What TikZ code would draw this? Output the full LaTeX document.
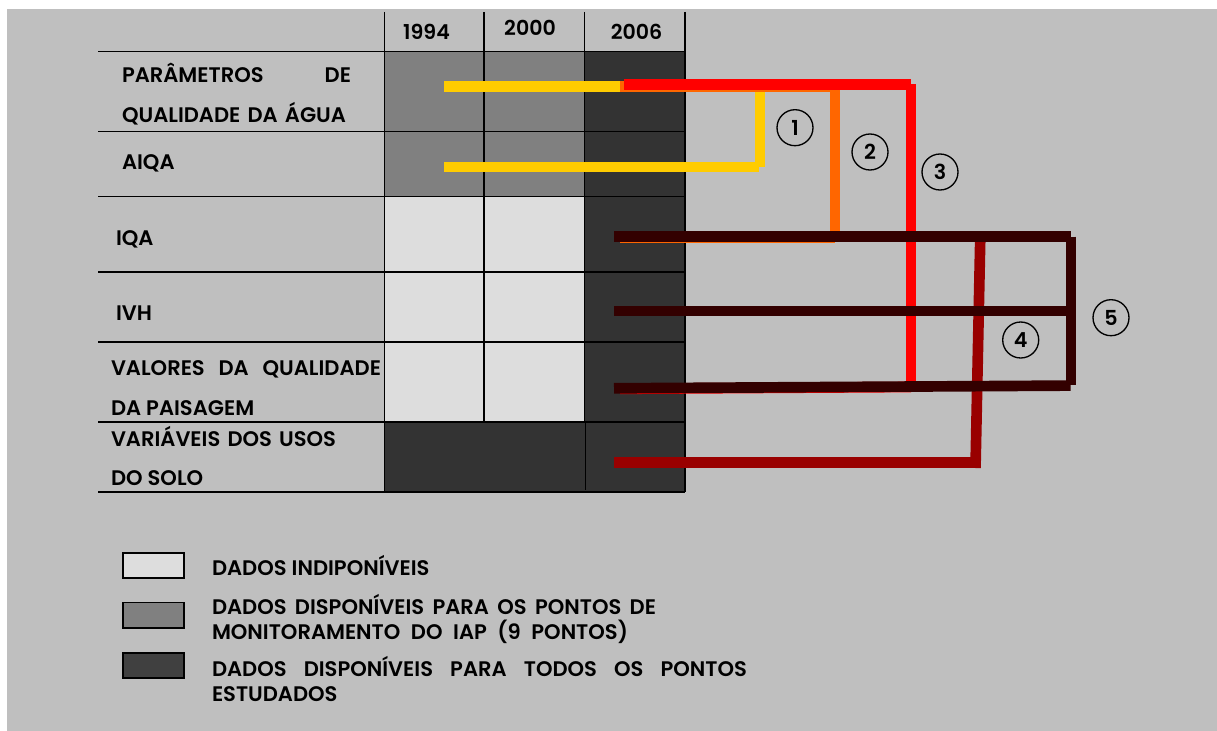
\documentclass[tikz,border=0pt]{standalone}
\usepackage{fontspec}
\setmainfont{Poppins}[BoldFont=Poppins SemiBold]
\definecolor{bgc}{HTML}{BFBFBF}
\definecolor{lightc}{HTML}{DDDDDD}
\definecolor{midc}{HTML}{808080}
\definecolor{darkc}{HTML}{333333}
\definecolor{legdark}{HTML}{404040}
\definecolor{ylw}{HTML}{FFCC00}
\definecolor{org}{HTML}{FF6600}
\definecolor{rd}{HTML}{FF0000}
\definecolor{drd}{HTML}{990000}
\definecolor{blk}{HTML}{330000}
\newcommand{\lbl}[4]{\node[tx] (#1) at (#2,#3) {#4};}
\newcommand{\jl}[5]{\node[tx] (#1) at (#2,#3) {\makebox[\dimexpr #4pt*3/4\relax][s]{#5}};}
\begin{document}
\begin{tikzpicture}[x=0.75pt,y=-0.75pt,
  tx/.style={anchor=base west,inner sep=0pt,outer sep=0pt,font=\fontsize{15.8}{18}\selectfont\bfseries,text=black},
  yr/.style={anchor=base,inner sep=0pt,font=\fontsize{15.4}{18}\selectfont\bfseries},
  grid/.style={draw=black,line width=1.1pt},
  thinl/.style={draw=black,line width=0.7pt},
  conn/.style={line width=8pt,line cap=butt},
  num/.style={circle,draw=black,line width=1pt,fill=bgc,minimum size=27pt,inner sep=0pt,font=\fontsize{15.5}{18}\selectfont\bfseries},
  leg/.style={draw=black,line width=1.2pt,minimum width=45.5pt,minimum height=19pt,inner sep=0pt}]
\useasboundingbox (0,0) rectangle (1217,731);
\fill[white] (0,0) rectangle (1217,731);
\fill[bgc] (7,9) rectangle (1217,731);
% cells
\fill[midc] (384,52) rectangle (585,197);
\fill[lightc] (384,197) rectangle (585,422);
\fill[darkc] (585,52) rectangle (685,492);
\fill[darkc] (384,422) rectangle (585,492);
% grid
\foreach \yy in {51.5,131.5,196.5,272,342,422,492}{\draw[grid] (98,\yy) -- (685,\yy);}
\draw[grid] (384.3,12) -- (384.3,492);
\draw[grid] (484,12) -- (484,422);
\draw[grid] (584.5,12) -- (584.5,422);
\draw[thinl] (585.5,422) -- (585.5,490);
\draw[grid,line width=1.5pt] (685,12) -- (685,492);
% headers
\node[yr] (y94) at (426.5,40) {1994};
\node[yr] (y00) at (530,36) {2000};
\node[yr] (y06) at (636.5,40) {2006};
% row labels
\jl{a1}{122}{83}{229}{PARÂMETROS DE}
\jl{a2}{122}{122.7}{224}{QUALIDADE DA ÁGUA}
\lbl{b}{122}{170}{AIQA}
\lbl{c}{116}{245}{IQA}
\lbl{d}{116}{320}{IVH}
\jl{e1}{111}{375}{270}{VALORES DA QUALIDADE}
\lbl{e2}{111}{415}{DA PAISAGEM}
\jl{f1}{111}{446.7}{225}{VARIÁVEIS DOS USOS}
\lbl{f2}{111}{485.7}{DO SOLO}
% connector points
\coordinate (yA) at (444,86.5); \coordinate (yB) at (765,86.5);
\coordinate (yC) at (760,86.5); \coordinate (yD) at (760,166.7);
\coordinate (yE) at (444,167); \coordinate (yF) at (759.3,167);
\coordinate (oA) at (620,86.5); \coordinate (oB) at (835,86.5);
\coordinate (oC) at (835,86.5); \coordinate (oD) at (835,237);
\coordinate (oE) at (620,238); \coordinate (oF) at (835,238);
\coordinate (rA) at (624,84.3); \coordinate (rB) at (910.7,84.3);
\coordinate (rC) at (911,84.3); \coordinate (rD) at (911,381);
\coordinate (rE) at (624,236); \coordinate (rF) at (911,236);
\coordinate (rG) at (620,388.8); \coordinate (rH) at (911,387);
\coordinate (dA) at (614,462.7); \coordinate (dB) at (975.3,462.7);
\coordinate (dC) at (975.5,468); \coordinate (dD) at (980.3,236);
\coordinate (kA) at (614,236.5); \coordinate (kB) at (1070.7,236.5);
\coordinate (kC) at (1071,236.5); \coordinate (kD) at (1071,385.3);
\coordinate (kE) at (614,311); \coordinate (kF) at (1071,311);
\coordinate (kG) at (614,388.3); \coordinate (kH) at (1070.7,385.6);
% connectors
\draw[conn,ylw] (yA) -- (yB);
\draw[conn,ylw] (yC) -- (yD);
\draw[conn,ylw] (yE) -- (yF);
\draw[conn,org] (oA) -- (oB);
\draw[conn,org] (oC) -- (oD);
\draw[conn,org] (oE) -- (oF);
\draw[conn,rd] (rA) -- (rB);
\draw[conn,rd] (rC) -- (rD);
\draw[conn,rd] (rE) -- (rF);
\draw[conn,rd] (rG) -- (rH);
\draw[conn,drd] (dA) -- (dB);
\draw[conn,drd] (dC) -- (dD);
\draw[conn,blk] (kA) -- (kB);
\draw[conn,blk] (kC) -- (kD);
\draw[conn,blk] (kE) -- (kF);
\draw[conn,blk] (kG) -- (kH);
% numbers
\node[num] (n1) at (795,127.7) {1};
\node[num] (n2) at (870,152) {2};
\node[num] (n3) at (940,172) {3};
\node[num] (n4) at (1020.7,340) {4};
\node[num] (n5) at (1111,317.7) {5};
% legend
\node[leg,fill=lightc] (l1) at (153.4,565.5) {};
\node[leg,fill=midc] (l2) at (153.4,615.2) {};
\node[leg,fill=legdark] (l3) at (153.4,665.4) {};
\lbl{t1}{212}{575}{DADOS INDIPONÍVEIS}
\jl{t2}{212}{614}{444}{DADOS DISPONÍVEIS PARA OS PONTOS DE}
\jl{t3}{212}{639}{416}{MONITORAMENTO DO IAP (9 PONTOS)}
\jl{t4}{212}{676.7}{535}{DADOS DISPONÍVEIS PARA TODOS OS PONTOS}
\lbl{t5}{212}{701}{ESTUDADOS}
\end{tikzpicture}
\end{document}
